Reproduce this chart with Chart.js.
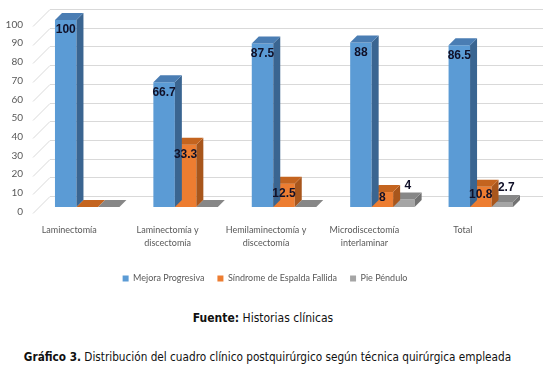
<!DOCTYPE html>
<html>
<head>
<meta charset="utf-8">
<script src="https://cdn.jsdelivr.net/npm/chart.js@4.4.1/dist/chart.umd.min.js"></script>
<style>
  body { margin: 0; background: #fff; width: 548px; height: 376px; overflow: hidden; position: relative; }
  .chart-container { position: absolute; left: 0; top: 0; width: 548px; height: 297px; }
  .fuente { position: absolute; top: 311px; left: 0; width: 526px; text-align: center; font-family: 'DejaVu Sans Condensed', 'DejaVu Sans'; font-size: 12px; color: #111; }
  .titulo { position: absolute; top: 350px; left: 0; width: 535px; text-align: center; font-family: 'DejaVu Sans Condensed', 'DejaVu Sans'; font-size: 11.7px; color: #111; white-space: nowrap; }
</style>
</head>
<body>
<div class="chart-container"><canvas id="chart"></canvas></div>
<div class="fuente"><b>Fuente:</b> Historias clínicas</div>
<div class="titulo"><b>Gráfico 3.</b> Distribución del cuadro clínico postquirúrgico según técnica quirúrgica empleada</div>
<script>
const categories = [
  ['Laminectomía'],
  ['Laminectomía y', 'discectomía'],
  ['Hemilaminectomía y', 'discectomía'],
  ['Microdiscectomía', 'interlaminar'],
  ['Total'],
];
const seriesNames = ['Mejora Progresiva', 'Síndrome de Espalda Fallida', 'Pie Péndulo'];
const mejora = [100, 66.7, 87.5, 88, 86.5];
const sindrome = [0, 33.3, 12.5, 8, 10.8];
const pie = [0, 0, 0, 4, 2.7];
const yTicks = [0, 10, 20, 30, 40, 50, 60, 70, 80, 90, 100];

// front / top / side colours for the fake 3d look
const shades = [
  { front: '#5b9bd5', top: '#4a7db3', side: '#3a6591' },
  { front: '#ed7d31', top: '#c4641f', side: '#a8561c' },
  { front: '#a5a5a5', top: '#878787', side: '#727272' },
];
const depth = 7;

const threeD = {
  id: 'threeD',
  beforeDatasetsDraw(chart) {
    const { ctx, chartArea, scales } = chart;
    ctx.save();
    ctx.strokeStyle = '#d9d9d9';
    ctx.lineWidth = 1;
    yTicks.forEach((v) => {
      const y = Math.round(scales.y.getPixelForValue(v)) + 0.5;
      ctx.beginPath();
      ctx.moveTo(chartArea.left - 5, y + 6);
      ctx.lineTo(chartArea.left + 12, y - 11);
      ctx.lineTo(chartArea.right + 13, y - 11);
      ctx.stroke();
    });
    ctx.restore();
  },
  afterDatasetDraw(chart, args) {
    const { ctx } = chart;
    const c = shades[args.index];
    ctx.save();
    args.meta.data.forEach((bar) => {
      const { x, y, base, width } = bar.getProps(['x', 'y', 'base', 'width'], true);
      const l = x - width / 2;
      const r = x + width / 2;
      // side
      ctx.fillStyle = c.side;
      ctx.beginPath();
      ctx.moveTo(r, y);
      ctx.lineTo(r + depth, y - depth);
      ctx.lineTo(r + depth, base - depth);
      ctx.lineTo(r, base);
      ctx.closePath();
      ctx.fill();
      // top
      ctx.fillStyle = c.top;
      ctx.beginPath();
      ctx.moveTo(l, y);
      ctx.lineTo(l + depth, y - depth);
      ctx.lineTo(r + depth, y - depth);
      ctx.lineTo(r, y);
      ctx.closePath();
      ctx.fill();
    });
    ctx.restore();
  },
  afterDatasetsDraw(chart) {
    const { ctx } = chart;
    ctx.save();
    ctx.font = 'bold 12px "Liberation Sans", Arial';
    ctx.fillStyle = '#101028';
    ctx.textAlign = 'center';
    ctx.textBaseline = 'middle';
    chart.data.datasets.forEach((ds, i) => {
      chart.getDatasetMeta(i).data.forEach((bar, j) => {
        const v = ds.data[j];
        if (!v) return;
        if (i < 2) {
          const mid = (bar.y + bar.base) / 2 - 2;
          ctx.fillText(String(v), bar.x, Math.min(bar.y + 10, mid));
        } else {
          ctx.fillText(String(v), bar.x + 4, bar.y - 14);
        }
      });
    });
    ctx.restore();
  },
};

new Chart(document.getElementById('chart'), {
  type: 'bar',
  data: {
    labels: categories,
    datasets: [
      { label: seriesNames[0], data: mejora, backgroundColor: shades[0].front },
      { label: seriesNames[1], data: sindrome, backgroundColor: shades[1].front },
      { label: seriesNames[2], data: pie, backgroundColor: shades[2].front },
    ],
  },
  options: {
    responsive: true,
    maintainAspectRatio: false,
    animation: false,
    datasets: {
      bar: { barPercentage: 1, categoryPercentage: 0.655 },
    },
    layout: { padding: { top: 20, right: 18, left: 0, bottom: 4 } },
    scales: {
      x: {
        grid: { display: false },
        border: { display: false },
        ticks: {
          color: '#595959',
          font: { family: 'Lato', size: 9, lineHeight: 1.5 },
          padding: 8,
          labelOffset: -18,
          maxRotation: 0,
          autoSkip: false,
        },
        afterFit: (s) => { s.height = 54; },
      },
      y: {
        min: 0,
        max: 100,
        grid: { display: false },
        border: { display: false },
        ticks: {
          stepSize: 10,
          color: '#595959',
          font: { family: 'Lato', size: 10 },
          padding: 7,
          labelOffset: 4.5,
        },
        afterFit: (s) => { s.width = 38; },
      },
    },
    plugins: {
      legend: {
        position: 'bottom',
        labels: {
          boxWidth: 6,
          boxHeight: 6,
          color: '#595959',
          font: { family: 'Lato', size: 9 },
          padding: 13,
        },
      },
      tooltip: { enabled: false },
    },
  },
  plugins: [threeD],
});
</script>
</body>
</html>
